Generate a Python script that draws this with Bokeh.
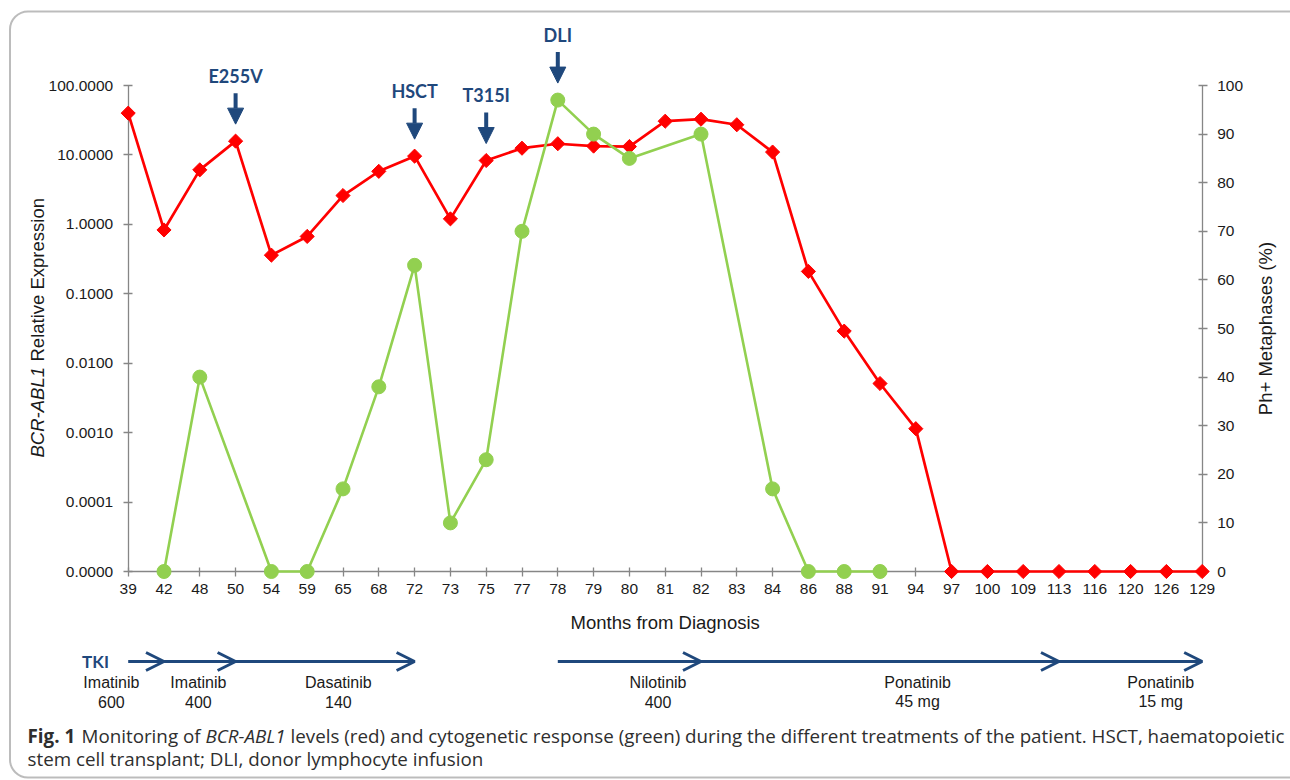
import numpy as np
from bokeh.plotting import figure
from bokeh.models import (Range1d, LinearAxis, LinearScale, FixedTicker, CustomJSTickFormatter,
                          Label, Arrow, NormalHead, OpenHead, BoxAnnotation, ColumnDataSource)
from bokeh.embed import file_html
from bokeh.resources import INLINE

# ---------------- data ----------------
months = [39, 42, 48, 50, 54, 59, 65, 68, 72, 73, 75, 77, 78, 79, 80, 81, 82, 83, 84, 86,
          88, 91, 94, 97, 100, 109, 113, 116, 120, 126, 129]
bcr_abl1 = [40.0, 0.83, 6.1, 15.8, 0.36, 0.67, 2.6, 5.8, 9.6, 1.2, 8.3, 12.5, 14.5, 13.4, 13.2,
            30.6, 32.7, 27.2, 11.0, 0.21, 0.029, 0.0051, 0.00114, 0, 0, 0, 0, 0, 0, 0, 0]
ph_months = [42, 48, 54, 59, 65, 68, 72, 73, 75, 77, 78, 79, 80, 82, 84, 86, 88, 91]
ph_pct = [0, 40, 0, 0, 17, 38, 63, 10, 23, 70, 97, 90, 85, 90, 17, 0, 0, 0]

events = ["E255V", "HSCT", "T315I", "DLI"]
event_months = [50, 72, 75, 78]

drugs = ["Imatinib", "Imatinib", "Dasatinib", "Nilotinib", "Ponatinib", "Ponatinib"]
doses = ["600", "400", "140", "400", "45 mg", "15 mg"]
drug_start = [39, 42, 50, 78, 82, 113]
drug_end = [42, 50, 72, 82, 113, 129]

left_ticks = [0.00001, 0.0001, 0.001, 0.01, 0.1, 1, 10, 100]
right_ticks = [0, 10, 20, 30, 40, 50, 60, 70, 80, 90, 100]

caption_1 = ["Fig. 1", "Monitoring of", "BCR-ABL1",
             "levels (red) and cytogenetic response (green) during the different treatments "
             "of the patient. HSCT, haematopoietic"]
caption_2 = "stem cell transplant; DLI, donor lymphocyte infusion"

# ---------------- layout (page pixels) ----------------
W, H = 1290, 780
AX_L, AX_R, AX_T, AX_B = 127.7, 1201.7, 85, 571
N = len(months) - 1
STEP = (AX_R - AX_L) / N
DEC = (AX_B - AX_T) / 7.0
PCT = (AX_B - AX_T) / 100.0
drug_label_pos = [-0.47, 1.96, 5.87, 14.8, 22.05, 28.84]
cap1_x = [27, 81, 205, 290]
cap1_style = ["bold", "normal", "italic", "normal"]

NAVY = "#1f487c"
RED = "#ff0000"
GREEN = "#92d050"
AXC = "#868686"
TXT = "#1a1a1a"
SANS = "Liberation Sans"

p = figure(width=W, height=H,
           x_range=Range1d(-AX_L / STEP, N + (W - AX_R) / STEP),
           y_range=Range1d(10 ** (-5 - (H - AX_B) / DEC), 10 ** (2 + AX_T / DEC)),
           y_axis_type="log", output_backend="svg", toolbar_location=None, min_border=0)
p.extra_y_ranges = {"pct": Range1d(-(H - AX_B) / PCT, 100 + AX_T / PCT),
                    "ly": Range1d(H, 0)}
p.extra_y_scales = {"pct": LinearScale(), "ly": LinearScale()}
p.extra_x_ranges = {"lx": Range1d(0, W)}
p.extra_x_scales = {"lx": LinearScale()}
p.outline_line_color = None
p.xgrid.visible = False
p.ygrid.visible = False
p.background_fill_color = "white"
p.border_fill_color = "white"

xa = p.xaxis[0]
ya = p.yaxis[0]
ra = LinearAxis(y_range_name="pct")
p.add_layout(ra, "right")

xa.ticker = FixedTicker(ticks=list(range(len(months))))
xa.major_label_overrides = {i: str(m) for i, m in enumerate(months)}
xa.fixed_location = left_ticks[0]
xa.bounds = (0, N)
xa.major_label_standoff = 7
ya.ticker = FixedTicker(ticks=left_ticks)
ya.formatter = CustomJSTickFormatter(code="return tick.toFixed(4)")
ya.fixed_location = 0
ya.bounds = (left_ticks[0], left_ticks[-1])
ya.major_label_standoff = 10
ra.ticker = FixedTicker(ticks=right_ticks)
ra.fixed_location = N
ra.bounds = (0, 100)
ra.major_label_standoff = 10
for ax in (xa, ya, ra):
    ax.axis_line_color = AXC
    ax.axis_line_width = 1.3
    ax.major_tick_line_color = AXC
    ax.major_tick_line_width = 1.3
    ax.major_tick_in = 4
    ax.major_tick_out = 5
    ax.minor_tick_line_color = None
    ax.major_label_text_font = SANS
    ax.major_label_text_font_size = "15.5px"
    ax.major_label_text_color = TXT

# ---------------- series ----------------
x_idx = np.arange(len(months))
red_y = np.maximum(np.array(bcr_abl1, dtype=float), left_ticks[0])
src_red = ColumnDataSource(dict(x=x_idx, y=red_y))
gx = [months.index(m) for m in ph_months]
src_green = ColumnDataSource(dict(x=gx, y=ph_pct))

p.line("x", "y", source=src_red, line_color=RED, line_width=2.7, level="overlay")
p.scatter("x", "y", source=src_red, marker="square", angle=np.pi / 4, size=10,
          fill_color=RED, line_color=RED, line_width=1, level="overlay")
p.line("x", "y", source=src_green, y_range_name="pct", line_color=GREEN, line_width=2.6,
       level="overlay")
p.scatter("x", "y", source=src_green, y_range_name="pct", marker="circle", size=14,
          fill_color=GREEN, line_color=GREEN, level="overlay")

# ---------------- event arrows (above the points) ----------------
def red_px(v):
    return AX_B - (np.log10(max(v, left_ticks[0])) + 5) * DEC

def ph_px(v):
    return AX_B - v * PCT

for name, m in zip(events, event_months):
    i = months.index(m)
    top = red_px(bcr_abl1[i])
    if m in ph_months:
        top = min(top, ph_px(ph_pct[ph_months.index(m)]))
    tip = top - 17
    tail = tip - 31
    p.add_layout(Arrow(end=NormalHead(size=16, fill_color=NAVY, line_color=NAVY),
                       x_start=i, y_start=tail, x_end=i, y_end=tip, y_range_name="ly",
                       line_color=NAVY, line_width=4))
    p.add_layout(Label(x=i, y=tail - 17.5, y_range_name="ly", text=name,
                       text_align="center", text_baseline="middle", text_font="Lato",
                       text_font_style="bold", text_font_size="18px", text_color=NAVY))

# ---------------- axis titles ----------------
p.add_layout(Label(x=37, y=457, x_range_name="lx", y_range_name="ly", text="BCR-ABL1",
                   angle=np.pi / 2, text_align="left", text_baseline="middle", text_font=SANS,
                   text_font_style="italic", text_font_size="18.5px", text_color=TXT))
p.add_layout(Label(x=37, y=361, x_range_name="lx", y_range_name="ly", text="Relative Expression",
                   angle=np.pi / 2, text_align="left", text_baseline="middle", text_font=SANS,
                   text_font_size="18.5px", text_color=TXT))
p.add_layout(Label(x=1265, y=328, x_range_name="lx", y_range_name="ly", text="Ph+ Metaphases (%)",
                   angle=np.pi / 2, text_align="center", text_baseline="middle", text_font=SANS,
                   text_font_size="18.5px", text_color=TXT))
p.add_layout(Label(x=(AX_L + AX_R) / 2, y=622, x_range_name="lx", y_range_name="ly",
                   text="Months from Diagnosis", text_align="center", text_baseline="middle",
                   text_font=SANS, text_font_size="18.5px", text_color=TXT))

# ---------------- treatment timeline ----------------
p.add_layout(Label(x=95, y=661, x_range_name="lx", y_range_name="ly", text="TKI",
                   text_align="center", text_baseline="middle", text_font="Lato",
                   text_font_style="bold", text_font_size="17px", text_color=NAVY))
for d, dose, s, e, lp in zip(drugs, doses, drug_start, drug_end, drug_label_pos):
    p.add_layout(Arrow(end=OpenHead(size=18, line_color=NAVY, line_width=3),
                       x_start=months.index(s), y_start=661, x_end=months.index(e), y_end=661,
                       y_range_name="ly", line_color=NAVY, line_width=3))
    p.add_layout(Label(x=lp, y=682, y_range_name="ly", text=d, text_align="center",
                       text_baseline="middle", text_font=SANS, text_font_size="16px",
                       text_color=TXT))
    p.add_layout(Label(x=lp, y=701, y_range_name="ly", text=dose, text_align="center",
                       text_baseline="middle", text_font=SANS, text_font_size="16px",
                       text_color=TXT))

# ---------------- caption ----------------
CAP = "Open Sans"
CAPC = "#2e2e2e"
CAP_SIZE = "18.8px"
for x, t, st in zip(cap1_x, caption_1, cap1_style):
    p.add_layout(Label(x=x, y=735, x_range_name="lx", y_range_name="ly", text=t,
                       text_align="left", text_baseline="middle", text_font=CAP,
                       text_font_style=st, text_font_size=CAP_SIZE, text_color=CAPC))
p.add_layout(Label(x=cap1_x[0], y=758, x_range_name="lx", y_range_name="ly", text=caption_2,
                   text_align="left", text_baseline="middle", text_font=CAP,
                   text_font_size=CAP_SIZE, text_color=CAPC))

# ---------------- panel border ----------------
p.add_layout(BoxAnnotation(left=9.5, right=1310, top=11, bottom=777,
                           x_range_name="lx", y_range_name="ly",
                           fill_alpha=0, line_color="#222222", line_width=2,
                           border_radius=18, level="underlay"))

open("out.html", "w").write(file_html(p, INLINE))
